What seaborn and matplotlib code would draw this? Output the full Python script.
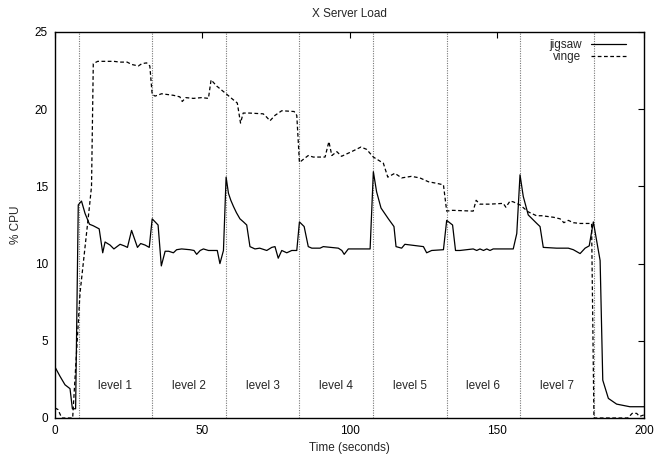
import numpy as np
import pandas as pd
import matplotlib
matplotlib.use("Agg")
import matplotlib.pyplot as plt
import seaborn as sns

# ---- data ----
jigsaw_t = [0, 1.7, 3.4, 5.1, 5.9, 7.0, 7.9, 9.0, 10.2, 11.7, 13.0, 15.0, 16.2, 17.0, 18.7,
            20.0, 22.1, 23.5, 24.6, 26.0, 28.0, 29.1, 30.6, 32.0, 33.0, 35.0, 36.1, 37.4,
            38.6, 40.2, 41.3, 43.0, 45.8, 47.2, 48.1, 49.3, 50.4, 52.1, 55.1, 56.0, 57.2,
            58.1, 58.9, 59.7, 60.6, 61.6, 62.8, 64.0, 65.1, 66.2, 67.9, 69.5, 71.9, 73.6,
            74.7, 75.8, 77.0, 78.7, 80.4, 82.1, 83.0, 84.6, 86.0, 87.2, 90.0, 91.1, 96.2,
            97.4, 98.2, 99.6, 103.0, 107.0, 108.1, 109.2, 110.7, 113.2, 115.1, 115.8,
            117.7, 118.8, 125.1, 126.2, 127.9, 131.9, 133.0, 135.0, 136.0, 137.5, 142.0,
            143.2, 144.3, 145.5, 146.6, 147.7, 148.8, 155.6, 156.8, 157.9, 159.0, 160.7,
            163.6, 164.7, 165.8, 170.3, 174.3, 176.0, 178.3, 180.0, 181.4, 182.8, 185.1,
            186.0, 187.9, 190.7, 195.2, 200.0]
jigsaw_v = [3.3, 2.7, 2.15, 1.9, 0.6, 0.6, 13.8, 14.05, 13.25, 12.55, 12.45, 12.25, 10.7, 11.4, 11.2,
            10.95, 11.25, 11.15, 11.05, 12.15, 11.05, 11.3, 11.2, 11.05, 12.9, 12.5, 9.85, 10.8,
            10.8, 10.7, 10.9, 10.95, 10.9, 10.85, 10.6, 10.85, 10.95, 10.85, 10.85, 10.0, 10.85,
            15.6, 14.55, 14.1, 13.7, 13.3, 12.9, 12.7, 12.5, 11.1, 10.95, 11.0, 10.85, 11.05,
            11.1, 10.35, 10.85, 10.7, 10.85, 10.85, 12.7, 12.4, 11.1, 11.0, 11.0, 11.1, 11.0,
            10.85, 10.6, 10.95, 10.95, 10.95, 15.95, 14.65, 13.6, 12.9, 12.4, 11.1,
            11.0, 11.25, 11.1, 10.7, 10.85, 10.9, 12.8, 12.5, 10.85, 10.85, 10.95,
            10.85, 10.95, 10.85, 10.95, 10.85, 10.95, 10.95, 11.95, 15.75, 14.35, 13.15,
            12.6, 12.4, 11.05, 11.0, 11.0, 10.9, 10.65, 11.0, 11.15, 12.7, 10.2,
            2.45, 1.27, 0.9, 0.73, 0.73]

vinge_t = [0, 1.0, 2.3, 6.0, 8.5, 11.7, 12.4, 13.0, 14.5, 20.0, 22.0, 24.5, 26.0, 28.3, 29.5,
           31.1, 32.2, 33.0, 34.0, 36.2, 40.2, 42.4, 43.2, 44.4, 47.0, 49.8, 52.1, 53.0, 54.9,
           58.1, 60.6, 61.9, 63.0, 63.9, 66.0, 70.7, 71.8, 73.0, 74.7, 77.0, 81.2, 82.1, 83.0,
           84.3, 86.0, 87.7, 91.7, 93.0, 94.0, 95.7, 97.3, 100.7, 103.9, 105.8, 108.1, 111.5,
           113.0, 115.4, 117.7, 121.0, 123.9, 126.8, 129.6, 131.9, 133.0, 135.0, 142.0, 143.0,
           144.3, 147.5, 152.2, 153.1, 154.5, 155.6, 157.9, 160.7, 163.5, 165.3, 169.3, 171.5,
           172.8, 174.3, 176.0, 178.3, 182.2, 183.0, 194.5, 196.0, 197.5, 198.5, 200.0]
vinge_v = [0.65, 0.55, 0.0, 0.0, 8.1, 13.7, 15.0, 22.95, 23.1, 23.1, 23.05, 23.05, 22.9, 22.8, 22.95,
           23.0, 22.8, 20.95, 20.85, 21.0, 20.9, 20.8, 20.5, 20.75, 20.7, 20.75, 20.7, 21.9, 21.5,
           21.0, 20.6, 20.4, 19.1, 19.75, 19.75, 19.7, 19.5, 19.25, 19.6, 19.9, 19.85, 19.6, 16.55,
           16.75, 17.0, 16.9, 16.9, 17.9, 17.0, 17.25, 16.95, 17.25, 17.55, 17.4, 16.9, 16.5,
           15.6, 15.85, 15.55, 15.65, 15.55, 15.3, 15.2, 15.1, 13.4, 13.45, 13.4, 14.1,
           13.85, 13.85, 13.9, 13.65, 14.05, 14.0, 13.8, 13.35, 13.1, 13.1, 13.0, 12.9,
           12.65, 12.8, 12.65, 12.6, 12.6, 0.0, 0.0, 0.3, 0.3, 0.1, 0.2]

level_bounds = [8, 33, 58, 83, 108, 133, 158, 183]
level_labels = ["level 1", "level 2", "level 3", "level 4", "level 5", "level 6", "level 7"]
level_label_y = 2.1

x_ticks = [0, 50, 100, 150, 200]
y_ticks = [0, 5, 10, 15, 20, 25]

# ---- style ----
sns.set_style("white")
plt.rcParams['font.family'] = ['Liberation Sans', 'DejaVu Sans']
FS = 8.5

fig = plt.figure(figsize=(6.66, 4.59), dpi=100)
ax = fig.add_axes([55/666, 1 - 418/459, (644-55)/666, (418-32)/459])

for b in level_bounds:
    ax.axvline(b, color="#777777", lw=0.8, linestyle=(0, (1, 1.2)), zorder=1)

sns.lineplot(x=jigsaw_t, y=jigsaw_v, ax=ax, color="black", lw=0.9, label="jigsaw",
             estimator=None, sort=False, zorder=3)
sns.lineplot(x=vinge_t, y=vinge_v, ax=ax, color="black", lw=0.9, label="vinge",
             estimator=None, sort=False, linestyle=(0, (3, 2)), zorder=3)

for i, lab in enumerate(level_labels):
    mid = (level_bounds[i] + level_bounds[i + 1]) / 2
    ax.text(mid, level_label_y, lab, ha="center", va="center", fontsize=FS)

ax.set_xlim(0, 200)
ax.set_ylim(0, 25)
ax.set_xticks(x_ticks)
ax.set_yticks(y_ticks)
ax.tick_params(direction="in", length=4, width=0.8, labelsize=FS, top=True, right=True,
               pad=5, colors="black")
for s in ax.spines.values():
    s.set_color("black")
    s.set_linewidth(1.0)

ax.set_xlabel("Time (seconds)", fontsize=FS, labelpad=4)
ax.set_ylabel("% CPU", fontsize=FS, labelpad=9)
ax.set_title("X Server Load", fontsize=FS, pad=11)

ax.legend(loc="upper right", frameon=False, markerfirst=False, fontsize=FS,
          handlelength=3.0, handletextpad=0.8, labelspacing=0.0,
          bbox_to_anchor=(0.978, 0.995), borderaxespad=0.0)

fig.savefig("out.png", dpi=100)
